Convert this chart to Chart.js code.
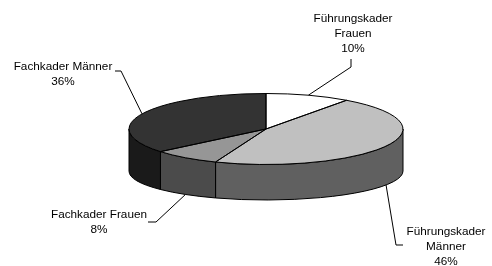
<!DOCTYPE html>
<html>
<head>
<meta charset="utf-8">
<script src="https://cdn.jsdelivr.net/npm/chart.js@4.4.1/dist/chart.umd.min.js"></script>
<style>
  html, body { margin: 0; padding: 0; background: #fff; }
  #pie { display: block; }
</style>
</head>
<body>
<canvas id="pie" width="492" height="266"></canvas>
<script>
const categories = ['Führungskader Frauen', 'Führungskader Männer', 'Fachkader Frauen', 'Fachkader Männer'];
const shares = [10, 46, 8, 36];
const labelLines = [['Führungskader', 'Frauen'], ['Führungskader', 'Männer'], ['Fachkader Frauen'], ['Fachkader Männer']];
const topColors = ['#ffffff', '#c0c0c0', '#969696', '#333333'];
const sideColors = ['#808080', '#606060', '#4b4b4b', '#1a1a1a'];

// ellipse geometry of the tilted pie (bottom face a bit flatter, like excel's perspective)
const cx = 266, cy = 129, rx = 137, ry = 35.5;
const bottomDrop = 42, ryBottom = 29;

// label centres and leader elbows
const labelPos = [[353, 19], [446, 232], [99, 215], [63, 66.5]];
const elbows = [
  [[351, 59], [351, 67]],
  [[403, 245], [396, 245]],
  [[148, 222], [156, 222]],
  [[115, 71], [121, 71]]
];
const lineH = 15;

const pie3d = {
  id: 'pie3d',
  beforeDatasetsDraw(chart) {
    const ctx = chart.ctx;
    const arcs = chart.getDatasetMeta(0).data;
    // side walls, only the front half shows
    arcs.forEach((arc, i) => {
      const a = Math.max(arc.startAngle, 0);
      const b = Math.min(arc.endAngle, Math.PI);
      if (b <= a) return;
      ctx.beginPath();
      ctx.ellipse(cx, cy, rx, ry, 0, a, b);
      ctx.ellipse(cx, cy + bottomDrop, rx, ryBottom, 0, b, a, true);
      ctx.closePath();
      ctx.fillStyle = sideColors[i];
      ctx.fill();
      ctx.lineWidth = 1;
      ctx.strokeStyle = '#000';
      ctx.stroke();
    });
    // squash the library's pie into the top ellipse
    const first = arcs[0];
    const R = first.outerRadius;
    ctx.save();
    ctx.translate(cx, cy);
    ctx.scale(rx / R, ry / R);
    ctx.translate(-first.x, -first.y);
  },
  afterDatasetsDraw(chart) {
    const ctx = chart.ctx;
    ctx.restore();
    const arcs = chart.getDatasetMeta(0).data;
    ctx.lineWidth = 1;
    ctx.strokeStyle = '#000';
    arcs.forEach(arc => {
      ctx.beginPath();
      ctx.moveTo(cx, cy);
      ctx.ellipse(cx, cy, rx, ry, 0, arc.startAngle, arc.endAngle);
      ctx.closePath();
      ctx.stroke();
    });

    // labels + leader lines
    ctx.font = '11.75px "Liberation Sans", Arial, sans-serif';
    ctx.fillStyle = '#000';
    ctx.textAlign = 'center';
    ctx.textBaseline = 'middle';
    arcs.forEach((arc, i) => {
      const mid = (arc.startAngle + arc.endAngle) / 2;
      const ex = cx + rx * Math.cos(mid);
      let ey = cy + ry * Math.sin(mid);
      if (Math.sin(mid) > 0) ey = cy + bottomDrop + ryBottom * Math.sin(mid);
      ctx.beginPath();
      ctx.moveTo(elbows[i][0][0], elbows[i][0][1]);
      ctx.lineTo(elbows[i][1][0], elbows[i][1][1]);
      ctx.lineTo(ex, ey);
      ctx.stroke();

      const lines = labelLines[i].concat([shares[i] + '%']);
      lines.forEach((t, k) => {
        ctx.fillText(t, labelPos[i][0], labelPos[i][1] + k * lineH);
      });
    });
  }
};

new Chart(document.getElementById('pie'), {
  type: 'pie',
  data: {
    labels: categories,
    datasets: [{
      data: shares,
      backgroundColor: topColors,
      borderWidth: 0,
      clip: false
    }]
  },
  options: {
    responsive: false,
    animation: false,
    events: [],
    radius: 120,
    layout: { padding: 0 },
    plugins: {
      legend: { display: false },
      tooltip: { enabled: false }
    }
  },
  plugins: [pie3d]
});
</script>
</body>
</html>
